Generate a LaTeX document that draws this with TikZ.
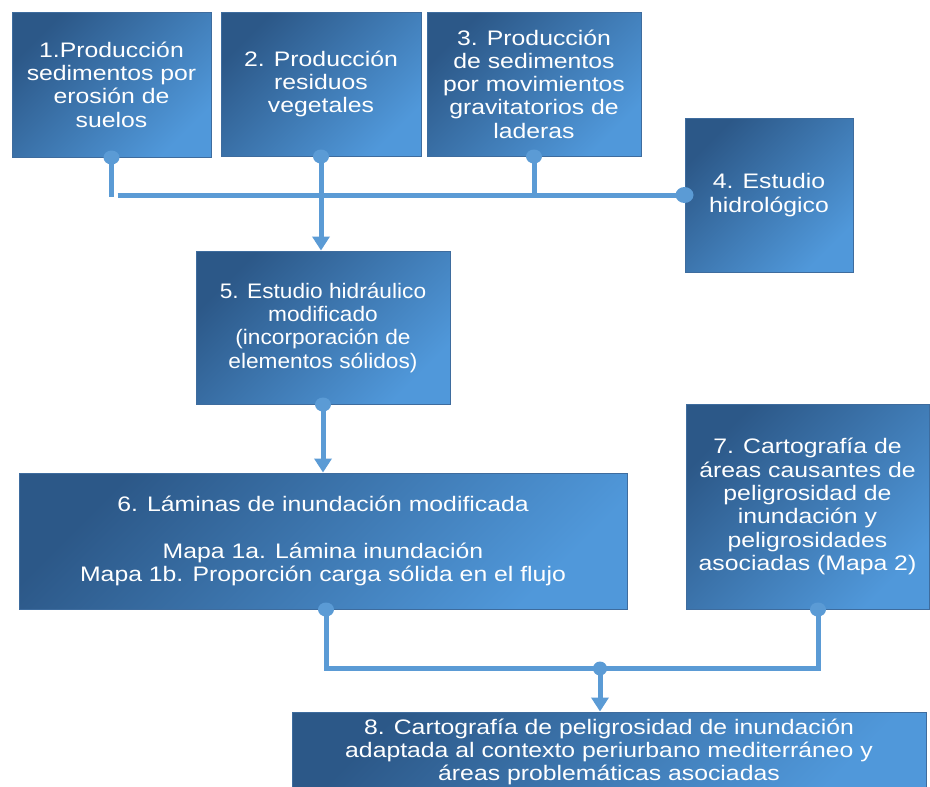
\documentclass[tikz,border=0pt]{standalone}
\usepackage{fontspec}
\setmainfont{Liberation Sans}
\newfontfamily\widef[FakeStretch=1.18]{Liberation Sans}
\newfontfamily\midf[FakeStretch=1.08]{Liberation Sans}
\usetikzlibrary{arrows.meta}
\definecolor{boxdark}{RGB}{44,88,136}
\definecolor{boxlight}{RGB}{80,152,218}
\definecolor{boxedge}{RGB}{62,108,158}
\definecolor{conn}{RGB}{91,155,213}
\tikzset{
  box/.style={draw=boxedge, line width=1pt, top color=boxdark, bottom color=boxlight,
    shading angle=45, inner sep=0pt, align=center, text=white,
    font=\widef\fontsize{21}{23.3}\selectfont},
  conn/.style={draw=conn, line width=5pt},
  arr/.style={conn, -{Triangle[width=17pt,length=14pt]}},
  dot/.style={fill=conn, draw=none}
}
\begin{document}
\begin{tikzpicture}[x=1pt,y=-1pt]
\useasboundingbox (0,0) rectangle (930,787);
\fill[white] (0,0) rectangle (930,787);

\node[box, minimum width=199pt, minimum height=145pt] (b1) at (111.5,84.5)
  {1.Producción\\sedimentos por\\erosión de\\suelos};
\node[box, minimum width=200pt, minimum height=144pt] (b2) at (321,84)
  {2. Producción\\residuos\\vegetales};
\node[box, minimum width=214pt, minimum height=144pt] (b3) at (534,84)
  {3. Producción\\de sedimentos\\por movimientos\\gravitatorios de\\laderas};
\node[box, minimum width=168pt, minimum height=154pt] (b4) at (769,195)
  {4. Estudio\\hidrológico};
\node[box, minimum width=254pt, minimum height=153pt,
  font=\midf\fontsize{21}{23.3}\selectfont] (b5) at (323,327.5)
  {5. Estudio hidráulico\\modificado\\(incorporación de\\elementos sólidos)};
\node[box, minimum width=608pt, minimum height=136pt] (b6) at (323,541)
  {6. Láminas de inundación modificada\\[23.3pt]Mapa 1a. Lámina inundación\\Mapa 1b. Proporción carga sólida en el flujo};
\node[box, minimum width=243pt, minimum height=205pt] (b7) at (807.5,506.5)
  {7. Cartografía de\\áreas causantes de\\peligrosidad de\\inundación y\\peligrosidades\\asociadas (Mapa 2)};
\node[box, minimum width=634pt, minimum height=80pt] (b8) at (609,752)
  {8. Cartografía de peligrosidad de inundación\\adaptada al contexto periurbano mediterráneo y\\áreas problemáticas asociadas};

% connectors top
\coordinate (h1) at (b1.south |- b4.west);
\coordinate (h3) at (b3.south |- b4.west);
\draw[conn] (b1.south) -- ([yshift=-2pt]h1);
\draw[conn] ([xshift=6pt]h1) -- (b4.west);
\draw[conn] (b3.south) -- (h3);
\draw[arr] (b2.south) -- (b2.south |- b5.north);
\draw[arr] (b5.south) -- (b6.north);

% connectors bottom
\coordinate (s6) at ([xshift=3pt]b6.south);
\coordinate (s7) at ([xshift=10.5pt]b7.south);
\coordinate (t8) at ([xshift=-9pt]b8.north);
\coordinate (c6) at ([yshift=-59pt]s6);
\coordinate (c7) at (s7 |- c6);
\coordinate (jn) at (t8 |- c6);
\draw[conn] (s6) -- (c6) -- (c7) -- (s7);
\draw[arr] (jn) -- (t8);

% dots
\foreach \p in {b1.south, b2.south, b3.south, b5.south, s6, s7}
  \fill[dot] (\p) ellipse [x radius=8pt, y radius=7pt];
\fill[dot] (b4.west) ellipse [x radius=9pt, y radius=8pt];
\fill[dot] (jn) ellipse [x radius=7pt, y radius=7pt];
\end{tikzpicture}
\end{document}
